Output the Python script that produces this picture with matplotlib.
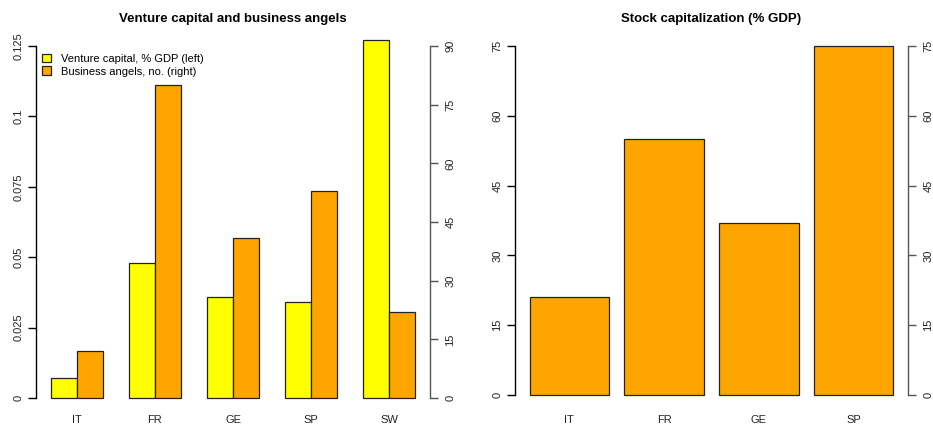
import numpy as np
import matplotlib
matplotlib.use("Agg")
import matplotlib.pyplot as plt

plt.rcParams.update({
    "font.family": ["Liberation Sans", "DejaVu Sans"],
    "font.size": 8,
})

# data
countries_vc = ["IT", "FR", "GE", "SP", "SW"]
venture_capital = [0.007, 0.048, 0.036, 0.034, 0.127]   # % GDP (left axis)
business_angels = [12, 80, 41, 53, 22]                   # number (right axis)

countries_sc = ["IT", "FR", "GE", "SP"]
stock_cap = [21, 55, 37, 75]                             # % GDP

left_ticks = [0, 0.025, 0.05, 0.075, 0.1, 0.125]
left_ticklabels = ["0", "0.025", "0.05", "0.075", "0.1", "0.125"]
right_ticks = [0, 15, 30, 45, 60, 75, 90]
sc_ticks = [0, 15, 30, 45, 60, 75]

YELLOW = "#FFFF00"
ORANGE = "#FFA500"
W, H = 933, 425


def r_axis(ax, side, ticks, labels, color="black", pad=3):
    """R-style axis: line spans tick range only, labels rotated."""
    for s in ax.spines.values():
        s.set_visible(False)
    sp = ax.spines[side]
    sp.set_visible(True)
    sp.set_bounds(ticks[0], ticks[-1])
    sp.set_color(color)
    sp.set_linewidth(1.0)
    ax.set_yticks(ticks)
    ax.set_yticklabels(labels, rotation=90, va="center")
    ax.tick_params(axis="y", length=6, width=1.0, pad=pad, color=color,
                   labelsize=8, labelcolor="#222222")
    if side == "right":
        ax.yaxis.tick_right()


fig = plt.figure(figsize=(W / 100, H / 100), dpi=100)

# ---- left panel: venture capital and business angels
ax1 = fig.add_axes([36 / W, (H - 412) / H, 394 / W, 386 / H])
n = len(countries_vc)
x_vc = np.arange(n) * 3 + 1.5
ax1.bar(x_vc, venture_capital, width=1, color=YELLOW, edgecolor="#222222",
        linewidth=0.9, label="Venture capital, % GDP (left)")
ax1.set_xlim(0.44, 15.56)
y_lo, y_hi = -0.00497, 0.1321
ax1.set_ylim(y_lo, y_hi)
r_axis(ax1, "left", left_ticks, left_ticklabels)
ax1.set_xticks(x_vc + 0.5)
ax1.set_xticklabels(countries_vc)
ax1.tick_params(axis="x", length=0, pad=2.5, labelsize=8, labelcolor="#222222")
ax1.set_title("Venture capital and business angels", fontsize=9.5,
              fontweight="bold", pad=3)

ax1b = ax1.twinx()
ax1b.bar(x_vc + 1, business_angels, width=1, color=ORANGE,
         edgecolor="#222222", linewidth=0.9, label="Business angels, no. (right)")
ax1b.set_ylim(y_lo * 90 / 0.125, y_hi * 90 / 0.125)
r_axis(ax1b, "right", right_ticks, [str(t) for t in right_ticks],
       color="#555555", pad=5)

h1, l1 = ax1.get_legend_handles_labels()
h2, l2 = ax1b.get_legend_handles_labels()
ax1b.legend(h1 + h2, l1 + l2, loc="upper left", frameon=False, fontsize=8,
            handlelength=0.8, handleheight=0.8, handletextpad=0.9,
            borderaxespad=0.0, labelspacing=0.25,
            bbox_to_anchor=(0.005, 0.94))

# ---- right panel: stock capitalization
ax2 = fig.add_axes([515 / W, (H - 409) / H, 393 / W, 377 / H])
x_sc = 0.2 + np.arange(len(countries_sc)) * 1.2 + 0.5
ax2.bar(x_sc, stock_cap, width=1, color=ORANGE, edgecolor="#222222",
        linewidth=0.9)
ax2.set_xlim(0.016, 4.984)
ax2.set_ylim(-3.01, 78.0)
r_axis(ax2, "left", sc_ticks, [str(t) for t in sc_ticks])
ax2.set_xticks(x_sc)
ax2.set_xticklabels(countries_sc)
ax2.tick_params(axis="x", length=0, pad=4.5, labelsize=8, labelcolor="#222222")
ax2.set_title("Stock capitalization (% GDP)", fontsize=9.5,
              fontweight="bold", pad=7)

ax2b = ax2.twinx()
ax2b.set_ylim(-3.01, 78.0)
r_axis(ax2b, "right", sc_ticks, [str(t) for t in sc_ticks],
       color="#555555", pad=5)

fig.savefig("out.png", dpi=100)
